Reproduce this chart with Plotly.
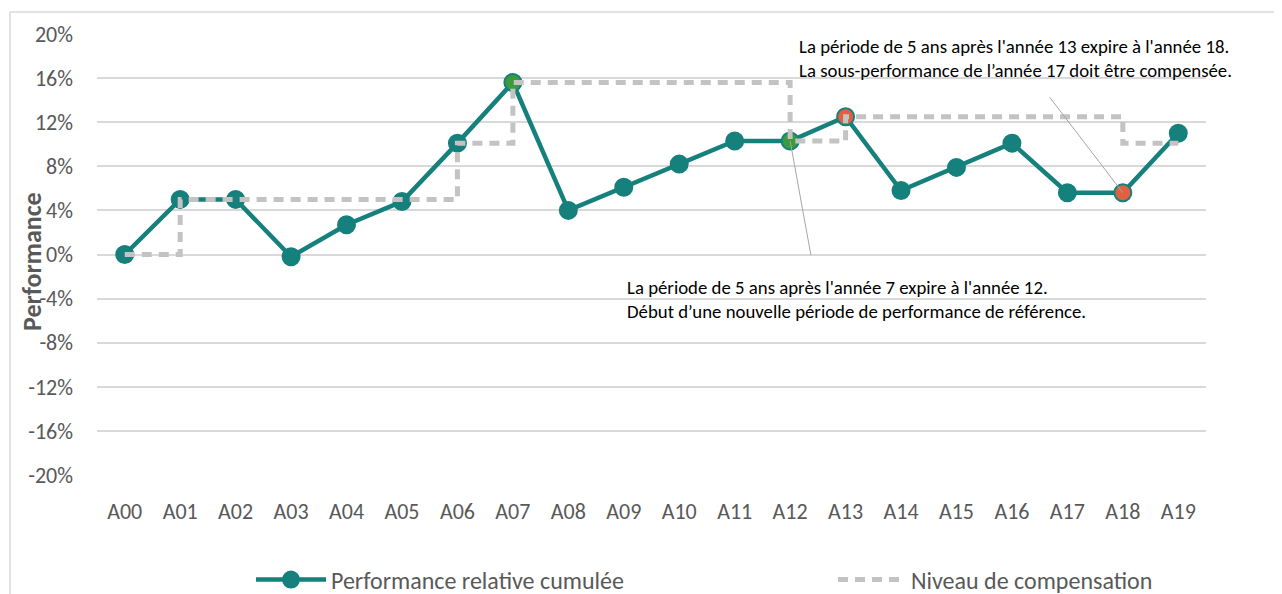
import plotly.graph_objects as go

categories = ["A%02d" % i for i in range(20)]
performance = [0.0, 5.0, 5.0, -0.2, 2.7, 4.8, 10.1, 15.6, 4.0, 6.1, 8.2, 10.3, 10.3, 12.5, 5.8, 7.9, 10.1, 5.6, 5.6, 11.0]
compensation = [0.0, 5.0, 5.0, 5.0, 5.0, 5.0, 10.1, 15.6, 15.6, 15.6, 15.6, 15.6, 10.3, 12.5, 12.5, 12.5, 12.5, 12.5, 10.1, 10.1]
y_ticks = [-20, -16, -12, -8, -4, 0, 4, 8, 12, 16, 20]
y_tick_labels = ["%d%%" % v for v in y_ticks]

TEAL = "#15807c"
GREEN = "#3d9b3f"
RED = "#e0603f"
marker_colors = [TEAL] * 20
marker_colors[7] = GREEN
marker_colors[12] = GREEN
marker_colors[13] = RED
marker_colors[18] = RED

FONT = "Carlito, Calibri, Lato, Liberation Sans, sans-serif"
GREY_TXT = "#595959"

# page body has an 8px margin: screen coordinates minus 8 = figure coordinates
OFF = 8
FIG_W, FIG_H = 1274, 586
L, R_EDGE, T, B = 97, 1206, 34, 475   # plot area on screen
W = R_EDGE - L
H = B - T


def px_x(p):
    return (p - L) / W


def px_y(p):
    return (B - p) / H


fig = go.Figure()
fig.add_trace(go.Scatter(
    x=list(range(20)), y=performance, mode="lines+markers",
    name="Performance relative cumulée", legend="legend",
    line=dict(color=TEAL, width=4.5),
    marker=dict(size=17, color=marker_colors, line=dict(color=TEAL, width=2)),
))
fig.add_trace(go.Scatter(
    x=list(range(20)), y=compensation, mode="lines",
    name="Niveau de compensation", legend="legend2",
    line=dict(color="#c3c3c3", width=5, dash="10px,7px", shape="hv"),
))

# annotations: leader lines
fig.add_annotation(x=18, y=5.6, ax=16.66, ay=14.4, axref="x", ayref="y",
                   text="", showarrow=True, arrowhead=0, arrowwidth=1,
                   arrowcolor="#a6a6a6", standoff=0)
fig.add_annotation(x=12, y=10.3, ax=12.38, ay=-0.2, axref="x", ayref="y",
                   text="", showarrow=True, arrowhead=0, arrowwidth=1,
                   arrowcolor="#a6a6a6", standoff=0)
# annotation texts
fig.add_annotation(x=px_x(797), y=px_y(33), xref="paper", yref="paper",
                   xanchor="left", yanchor="top", align="left", showarrow=False,
                   text="La période de 5 ans après l'année 13 expire à l'année 18.<br>"
                        "La sous-performance de l’année 17 doit être compensée.",
                   font=dict(family=FONT, size=18.8, color="#000000"))
fig.add_annotation(x=px_x(625), y=px_y(274), xref="paper", yref="paper",
                   xanchor="left", yanchor="top", align="left", showarrow=False,
                   text="La période de 5 ans après l'année 7 expire à l'année 12.<br>"
                        "Début d’une nouvelle période de performance de référence.",
                   font=dict(family=FONT, size=18.8, color="#000000"))
# y-axis title
fig.add_annotation(x=px_x(32), y=px_y(262), xref="paper", yref="paper",
                   xanchor="center", yanchor="middle",
                   text="<b>Performance</b>", textangle=-90, showarrow=False,
                   font=dict(family=FONT, size=26, color=GREY_TXT))

# chart frame
fig.add_shape(type="rect", xref="paper", yref="paper",
              x0=px_x(10), x1=px_x(1300), y0=px_y(620), y1=px_y(12),
              line=dict(color="#d9d9d9", width=1.5), layer="below")

fig.update_layout(
    width=FIG_W, height=FIG_H,
    margin=dict(l=L - OFF, r=FIG_W - (R_EDGE - OFF), t=T - OFF,
                b=FIG_H - (B - OFF), autoexpand=False),
    paper_bgcolor="white", plot_bgcolor="white",
    font=dict(family=FONT, color=GREY_TXT),
    showlegend=True,
    legend=dict(orientation="h", x=px_x(251), xanchor="left",
                y=px_y(580), yanchor="middle",
                font=dict(family=FONT, size=24, color=GREY_TXT),
                itemwidth=70, bgcolor="rgba(0,0,0,0)"),
    legend2=dict(orientation="h", x=px_x(833), xanchor="left",
                 y=px_y(580), yanchor="middle",
                 font=dict(family=FONT, size=24, color=GREY_TXT),
                 itemwidth=68, bgcolor="rgba(0,0,0,0)"),
    xaxis=dict(range=[-0.5, 19.5], tickmode="array", tickvals=list(range(20)),
               ticktext=categories, showgrid=False, zeroline=False,
               showline=False, ticks="", ticklabelstandoff=21,
               tickfont=dict(family=FONT, size=22, color=GREY_TXT)),
    yaxis=dict(range=[-20, 20], tickmode="array", tickvals=y_ticks,
               ticktext=y_tick_labels, showgrid=True, gridcolor="#d9d9d9",
               gridwidth=1.5, zeroline=False, showline=False, ticks="",
               ticklabelstandoff=23,
               tickfont=dict(family=FONT, size=22, color=GREY_TXT)),
)

fig.write_html("out.html")
